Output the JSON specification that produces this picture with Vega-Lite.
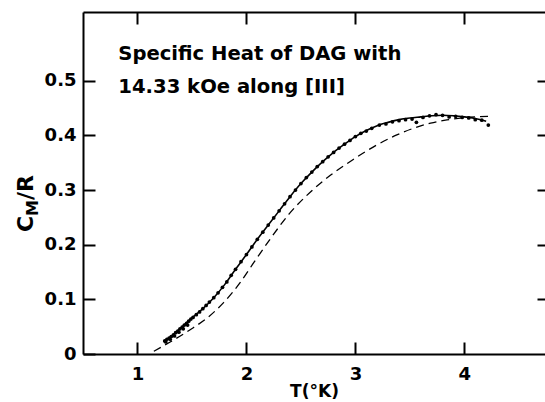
{
  "$schema": "https://vega.github.io/schema/vega-lite/v6.json",
  "width": 462,
  "height": 342,
  "autosize": "none",
  "padding": {"left": 83, "top": 12, "right": 0, "bottom": 48},
  "background": "white",
  "config": {
    "view": {"stroke": null},
    "font": "DejaVu Sans",
    "axis": {
      "grid": false,
      "domainColor": "black",
      "domainWidth": 2,
      "tickColor": "black",
      "tickWidth": 2,
      "labelColor": "black",
      "labelFont": "DejaVu Sans",
      "labelFontWeight": "bold",
      "labelFontSize": 18,
      "titleColor": "black",
      "titleFont": "DejaVu Sans",
      "titleFontWeight": "bold"
    }
  },
  "datasets": {
    "fit": [
      {"T": 1.24, "C": 0.023}, {"T": 1.30, "C": 0.031}, {"T": 1.40, "C": 0.048}, {"T": 1.50, "C": 0.066},
      {"T": 1.60, "C": 0.083}, {"T": 1.70, "C": 0.103}, {"T": 1.80, "C": 0.127}, {"T": 1.90, "C": 0.155},
      {"T": 2.00, "C": 0.182}, {"T": 2.10, "C": 0.210}, {"T": 2.20, "C": 0.236}, {"T": 2.30, "C": 0.262},
      {"T": 2.40, "C": 0.288}, {"T": 2.50, "C": 0.312}, {"T": 2.60, "C": 0.333}, {"T": 2.70, "C": 0.352},
      {"T": 2.80, "C": 0.369}, {"T": 2.90, "C": 0.384}, {"T": 3.00, "C": 0.398}, {"T": 3.10, "C": 0.409},
      {"T": 3.20, "C": 0.418}, {"T": 3.30, "C": 0.424}, {"T": 3.40, "C": 0.429}, {"T": 3.50, "C": 0.432},
      {"T": 3.60, "C": 0.434}, {"T": 3.70, "C": 0.436}, {"T": 3.80, "C": 0.437}, {"T": 3.90, "C": 0.436},
      {"T": 4.00, "C": 0.434}, {"T": 4.10, "C": 0.431}, {"T": 4.20, "C": 0.426}
    ],
    "theory": [
      {"T": 1.15, "C": 0.005}, {"T": 1.30, "C": 0.022}, {"T": 1.48, "C": 0.044}, {"T": 1.64, "C": 0.066},
      {"T": 1.79, "C": 0.094}, {"T": 1.94, "C": 0.130}, {"T": 2.07, "C": 0.168}, {"T": 2.22, "C": 0.211},
      {"T": 2.39, "C": 0.256}, {"T": 2.59, "C": 0.297}, {"T": 2.77, "C": 0.327}, {"T": 2.98, "C": 0.356},
      {"T": 3.20, "C": 0.383}, {"T": 3.38, "C": 0.401}, {"T": 3.53, "C": 0.413}, {"T": 3.69, "C": 0.4225},
      {"T": 3.84, "C": 0.4285}, {"T": 3.99, "C": 0.4325}, {"T": 4.10, "C": 0.434}, {"T": 4.24, "C": 0.435}
    ],
    "points": [
      {"T": 1.25, "C": 0.024}, {"T": 1.27, "C": 0.027}, {"T": 1.29, "C": 0.029}, {"T": 1.31, "C": 0.032},
      {"T": 1.33, "C": 0.035}, {"T": 1.35, "C": 0.039}, {"T": 1.37, "C": 0.042}, {"T": 1.39, "C": 0.046},
      {"T": 1.41, "C": 0.049}, {"T": 1.43, "C": 0.053}, {"T": 1.45, "C": 0.056}, {"T": 1.47, "C": 0.060},
      {"T": 1.49, "C": 0.064}, {"T": 1.51, "C": 0.067}, {"T": 1.54, "C": 0.072}, {"T": 1.57, "C": 0.077},
      {"T": 1.60, "C": 0.083}, {"T": 1.63, "C": 0.089}, {"T": 1.66, "C": 0.095}, {"T": 1.70, "C": 0.103},
      {"T": 1.74, "C": 0.112}, {"T": 1.78, "C": 0.122}, {"T": 1.82, "C": 0.132}, {"T": 1.86, "C": 0.144},
      {"T": 1.90, "C": 0.155}, {"T": 1.95, "C": 0.169}, {"T": 2.00, "C": 0.182}, {"T": 2.05, "C": 0.196},
      {"T": 2.10, "C": 0.210}, {"T": 2.15, "C": 0.223}, {"T": 2.20, "C": 0.236}, {"T": 2.25, "C": 0.249},
      {"T": 2.30, "C": 0.262}, {"T": 2.35, "C": 0.275}, {"T": 2.40, "C": 0.288}, {"T": 2.45, "C": 0.300},
      {"T": 2.50, "C": 0.312}, {"T": 2.55, "C": 0.323}, {"T": 2.60, "C": 0.333}, {"T": 2.65, "C": 0.343},
      {"T": 2.70, "C": 0.352}, {"T": 2.75, "C": 0.361}, {"T": 2.80, "C": 0.369}, {"T": 2.85, "C": 0.377},
      {"T": 2.90, "C": 0.384}, {"T": 2.95, "C": 0.391}, {"T": 3.00, "C": 0.398}, {"T": 3.05, "C": 0.404},
      {"T": 3.10, "C": 0.408}, {"T": 3.15, "C": 0.413}, {"T": 3.22, "C": 0.419}, {"T": 3.28, "C": 0.421},
      {"T": 3.34, "C": 0.425}, {"T": 3.40, "C": 0.427}, {"T": 3.46, "C": 0.429}, {"T": 3.52, "C": 0.430},
      {"T": 3.56, "C": 0.424}, {"T": 3.62, "C": 0.433}, {"T": 3.68, "C": 0.436}, {"T": 3.74, "C": 0.438},
      {"T": 3.80, "C": 0.437}, {"T": 3.86, "C": 0.434}, {"T": 3.92, "C": 0.435}, {"T": 3.98, "C": 0.433},
      {"T": 4.04, "C": 0.432}, {"T": 4.10, "C": 0.429}, {"T": 4.16, "C": 0.428}, {"T": 4.22, "C": 0.419},
      {"T": 1.26, "C": 0.022}, {"T": 1.30, "C": 0.027}, {"T": 1.34, "C": 0.033}, {"T": 1.38, "C": 0.040},
      {"T": 1.42, "C": 0.046}, {"T": 1.46, "C": 0.053}
    ],
    "note": [{"T": 0.824, "C": 0.5385, "text": ["Specific Heat of DAG with", "14.33 kOe along [III]"]}],
    "ytitle": [{"T": 0.044, "C": 0.2234}]
  },
  "resolve": {"axis": {"x": "independent", "y": "independent"}},
  "layer": [
    {
      "data": {"name": "fit"},
      "mark": {"type": "line", "color": "black", "strokeWidth": 1.6, "interpolate": "monotone"},
      "encoding": {
        "x": {"field": "T", "type": "quantitative",
          "scale": {"domain": [0.5, 4.74], "nice": false, "zero": false},
          "axis": {"orient": "bottom", "values": [1, 2, 3, 4], "tickSize": -12, "labelPadding": 23,
            "title": "T(°K)", "titleFontSize": 17, "titlePadding": 0}},
        "y": {"field": "C", "type": "quantitative",
          "scale": {"domain": [0, 0.626], "nice": false, "zero": false},
          "axis": {"orient": "left", "values": [0, 0.1, 0.2, 0.3, 0.4, 0.5], "tickSize": -12, "labelPadding": 19,
            "labelExpr": "datum.value == 0 ? '0' : format(datum.value, '.1f')", "title": null}}
      }
    },
    {
      "data": {"name": "theory"},
      "mark": {"type": "line", "color": "black", "strokeWidth": 1.3, "strokeDash": [8, 5], "interpolate": "monotone"},
      "encoding": {
        "x": {"field": "T", "type": "quantitative",
          "axis": {"orient": "top", "values": [1, 2, 3, 4], "tickSize": -12, "labels": false, "title": null}},
        "y": {"field": "C", "type": "quantitative",
          "axis": {"orient": "right", "values": [0.1, 0.2, 0.3, 0.4, 0.5], "tickSize": -8, "labels": false, "domain": false, "title": null}}
      }
    },
    {
      "data": {"name": "points"},
      "mark": {"type": "circle", "color": "black", "size": 14, "opacity": 1},
      "encoding": {
        "x": {"field": "T", "type": "quantitative", "axis": null},
        "y": {"field": "C", "type": "quantitative", "axis": null}
      }
    },
    {
      "data": {"name": "note"},
      "mark": {"type": "text", "align": "left", "baseline": "alphabetic", "fontSize": 19.6, "fontWeight": "bold", "lineHeight": 33, "color": "black"},
      "encoding": {
        "x": {"field": "T", "type": "quantitative", "axis": null},
        "y": {"field": "C", "type": "quantitative", "axis": null},
        "text": {"field": "text"}
      }
    },
    {
      "data": {"name": "ytitle"},
      "mark": {"type": "text", "text": "C", "angle": -90, "align": "left", "baseline": "alphabetic", "fontSize": 22, "fontWeight": "bold", "color": "black"},
      "encoding": {
        "x": {"field": "T", "type": "quantitative", "axis": null},
        "y": {"field": "C", "type": "quantitative", "axis": null}
      }
    },
    {
      "data": {"name": "ytitle"},
      "mark": {"type": "text", "text": "M", "angle": -90, "align": "left", "baseline": "alphabetic", "dx": 16, "dy": 5, "fontSize": 16, "fontWeight": "bold", "color": "black"},
      "encoding": {
        "x": {"field": "T", "type": "quantitative", "axis": null},
        "y": {"field": "C", "type": "quantitative", "axis": null}
      }
    },
    {
      "data": {"name": "ytitle"},
      "mark": {"type": "text", "text": "/R", "angle": -90, "align": "left", "baseline": "alphabetic", "dx": 32, "fontSize": 22, "fontWeight": "bold", "color": "black"},
      "encoding": {
        "x": {"field": "T", "type": "quantitative", "axis": null},
        "y": {"field": "C", "type": "quantitative", "axis": null}
      }
    }
  ]
}
